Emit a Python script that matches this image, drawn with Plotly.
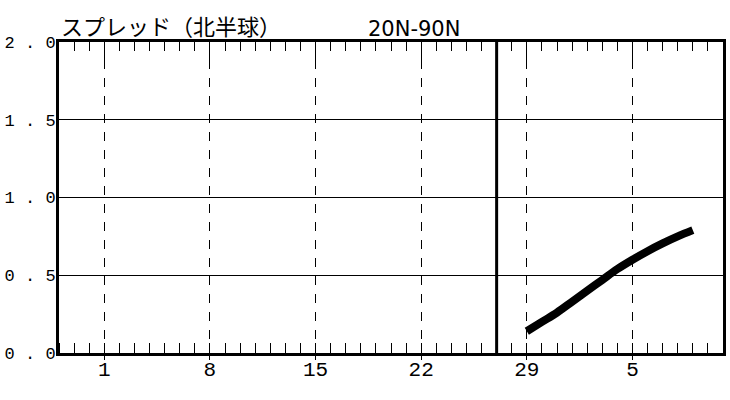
import plotly.graph_objects as go

# forecast days (day numbers counted from the 1st of the month, 36 = 5th of next month)
days = [29, 30, 31, 32, 33, 34, 35, 36, 37, 38, 39, 40]
spread = [0.14, 0.20, 0.26, 0.33, 0.40, 0.47, 0.54, 0.60, 0.655, 0.705, 0.75, 0.79]

x_tickvals = [1, 8, 15, 22, 29, 36]
x_ticktext = ["1", "8", "15", "22", "29", "5"]
y_tickvals = [0, 0.5, 1.0, 1.5, 2.0]
y_ticktext = ["0 . 0", "0 . 5", "1 . 0", "1 . 5", "2 . 0"]

x_range = [-2, 42]
y_range = [0, 2.0]
today = 27

title_text = "スプレッド（北半球）"
region_text = "20N-90N"

fig = go.Figure()

fig.add_trace(go.Scatter(
    x=days, y=spread,
    mode='lines',
    line=dict(color='black', width=8, shape='spline', smoothing=1.0),
    hoverinfo='skip',
    showlegend=False
))

# invisible trace so the top axis exists
fig.add_trace(go.Scatter(x=x_range, y=y_range, xaxis='x2', mode='markers',
                         marker=dict(opacity=0), hoverinfo='skip', showlegend=False))

fig.add_vline(x=today, line=dict(color='black', width=3))

fig.update_layout(
    width=730, height=400,
    margin=dict(l=59, r=7, t=42, b=47),
    paper_bgcolor='white',
    plot_bgcolor='white',
    showlegend=False,
    xaxis=dict(
        range=x_range, automargin=False,
        tickvals=x_tickvals, ticktext=x_ticktext,
        ticks='outside', ticklen=4, tickwidth=1, tickcolor='black',
        ticklabelstandoff=-9,
        tickfont=dict(family='Liberation Mono', size=21, color='black'),
        showgrid=True, gridcolor='black', gridwidth=1, griddash='dash',
        minor=dict(tick0=0, dtick=1, ticks='inside', ticklen=10, tickwidth=1, tickcolor='black', showgrid=False),
        showline=True, linecolor='black', linewidth=3,
        zeroline=False,
    ),
    xaxis2=dict(
        range=x_range, overlaying='x', side='top', automargin=False,
        tickvals=x_tickvals, showticklabels=False,
        ticks='inside', ticklen=18, tickwidth=1, tickcolor='black',
        minor=dict(tick0=0, dtick=1, ticks='inside', ticklen=9, tickwidth=1, tickcolor='black'),
        showgrid=False, showline=True, linecolor='black', linewidth=3, zeroline=False,
    ),
    yaxis=dict(
        range=y_range, automargin=False,
        tickvals=y_tickvals, ticktext=y_ticktext,
        ticks='', ticklabelstandoff=-3,
        tickfont=dict(family='Liberation Mono', size=17, color='black'),
        showgrid=True, gridcolor='black', gridwidth=1,
        showline=True, linecolor='black', linewidth=3, mirror=True,
        zeroline=False,
    ),
    annotations=[
        dict(text=title_text, xref='paper', yref='paper', x=0, y=1, xanchor='left', yanchor='bottom',
             yshift=-1, showarrow=False, font=dict(family='Noto Sans CJK JP', size=22, color='black')),
        dict(text=region_text, xref='paper', yref='paper', x=0.535, y=1, xanchor='center', yanchor='bottom',
             yshift=-1, showarrow=False, font=dict(family='DejaVu Sans', size=21, color='black')),
    ],
)

# page body margin would shift the figure; drop it
fig.write_html("out.html", config={'displayModeBar': False},
               post_script="document.body.style.margin='0';")
